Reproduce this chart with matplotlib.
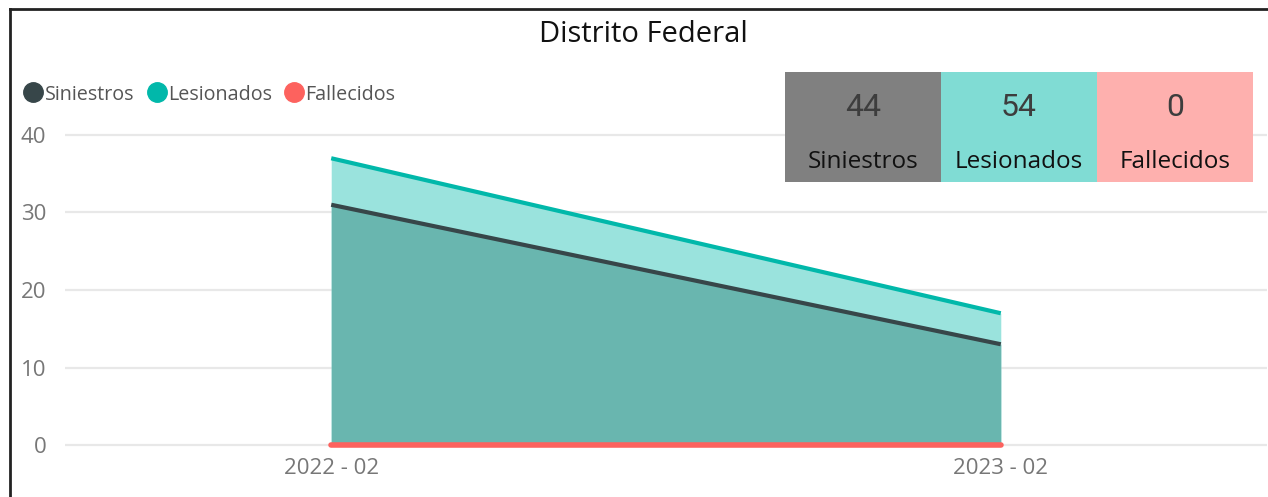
import matplotlib
matplotlib.use("Agg")
import matplotlib.pyplot as plt
from matplotlib.patches import Rectangle
from matplotlib.lines import Line2D

# ---- data ----
categories = ["2022 - 02", "2023 - 02"]
siniestros = [31, 13]
lesionados = [37, 17]
fallecidos = [0, 0]
series_names = ["Siniestros", "Lesionados", "Fallecidos"]
y_ticks = [0, 10, 20, 30, 40]
title = "Distrito Federal"

W, H = 1268, 497
fig = plt.figure(figsize=(W / 100, H / 100), dpi=100)
fig.patch.set_facecolor("white")

FONT = ["Open Sans", "DejaVu Sans"]
plt.rcParams["font.family"] = FONT

def fx(px):
    return px / W

def fy(py):
    return 1 - py / H

# axes: y=0 at 445 px, y=40 at 135 px, x positions 0 -> 331 px, 1 -> 1000 px
ax = fig.add_axes([fx(65), fy(452.75), fx(1267) - fx(65), fy(127.25) - fy(452.75)])
ax.set_ylim(-1, 41)
x = list(range(len(categories)))
ax.set_xlim(-0.3976, 1.3976)

c_sin = "#374649"
c_les = "#01B8AA"
c_fal = "#FD625E"

ax.fill_between(x, 0, lesionados, color="#9AE3DD", lw=0, zorder=2)
ax.fill_between(x, 0, siniestros, color="#69B6AF", lw=0, zorder=3)
ax.plot(x, lesionados, color=c_les, lw=3, zorder=5, solid_capstyle="butt")
ax.plot(x, siniestros, color=c_sin, lw=3, zorder=5, solid_capstyle="butt")
ax.plot(x, fallecidos, color=c_fal, lw=4, zorder=6, solid_capstyle="round", clip_on=False)

ax.set_yticks(y_ticks)
ax.set_xticks(x)
ax.set_xticklabels(categories)
ax.grid(axis="y", color="#E8E8E8", lw=1.6, zorder=0)
ax.grid(axis="x", visible=False)
for s in ax.spines.values():
    s.set_visible(False)
ax.tick_params(axis="both", length=0, colors="#777777", labelsize=16)
ax.tick_params(axis="y", pad=13.5)
ax.tick_params(axis="x", pad=4)
ax.set_facecolor("none")

# title
fig.text(fx(643), fy(34), title, ha="center", va="center", fontsize=21, color="#111111")

# legend (manual: circle + label)
legend_circle_x = [32.5, 156.5, 293.5]
for name, c, cxp in zip(series_names, (c_sin, c_les, c_fal), legend_circle_x):
    fig.add_artist(Line2D([fx(cxp)], [fy(92)], marker="o", ls="", markersize=14,
                          color=c, transform=fig.transFigure))
    fig.text(fx(cxp + 12), fy(92), name, ha="left", va="center_baseline",
             fontsize=14.2, color="#555555")

# KPI cards
totals = [sum(siniestros), sum(lesionados), sum(fallecidos)]
card_colors = ["#808080", "#80DCD4", "#FEB0AE"]
x0 = 785
cw = 156
for i, (name, val, col) in enumerate(zip(series_names, totals, card_colors)):
    left = x0 + i * cw
    fig.patches.append(Rectangle((fx(left), fy(182)), fx(cw), fy(72) - fy(182),
                                 transform=fig.transFigure, facecolor=col,
                                 edgecolor="none", zorder=10))
    fig.text(fx(left + cw / 2), fy(108), f"{val}", ha="center", va="center",
             fontsize=23, color="#3d3d3d", zorder=11, weight="normal",
             family=["Roboto", "DejaVu Sans"])
    fig.text(fx(left + cw / 2), fy(162), name, ha="center", va="center",
             fontsize=17.5, color="#111111", zorder=11)

# frame (top and left)
fig.add_artist(Line2D([fx(10), 1], [fy(9), fy(9)], transform=fig.transFigure,
                      color="#222222", lw=2))
fig.add_artist(Line2D([fx(10), fx(10)], [fy(9), 0], transform=fig.transFigure,
                      color="#222222", lw=2))

fig.savefig("out.png", dpi=100, facecolor="white")
